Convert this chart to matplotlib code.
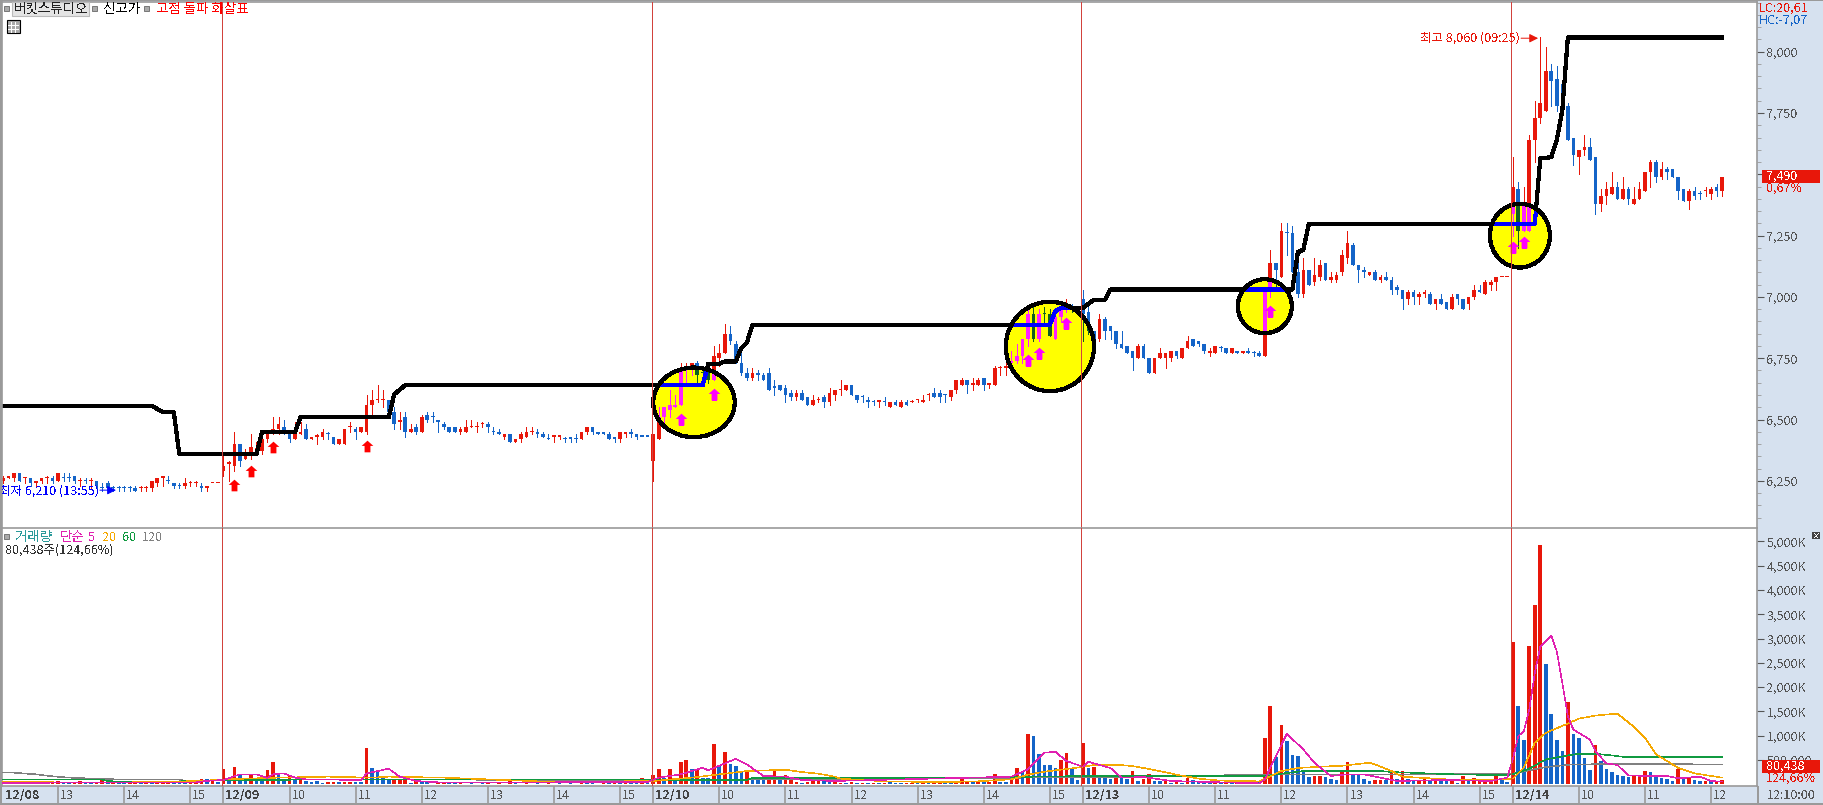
import numpy as np
import matplotlib
matplotlib.use("Agg")
import matplotlib.pyplot as plt
from matplotlib.patches import Ellipse, Rectangle
from matplotlib.path import Path

plt.rcParams['font.family'] = ['Noto Sans CJK KR', 'DejaVu Sans']
plt.rcParams['text.antialiased'] = False

# 5 minute candles, 12/08 (partial) to 12/14 (partial)
opens = [6250,6260,6260,6280,6260,6260,6240,6250,6260,6260,
 6250,6260,6260,6270,6250,6250,6250,6250,6220,6240,
 6220,6220,6220,6220,6220,6220,6220,6220,6240,6260,
 6250,6240,6230,6230,6240,6240,6230,6220,6240,6240,
 6290,6320,6310,6400,6340,6350,6380,6370,6420,6440,
 6460,6470,6450,6420,6440,6460,6420,6430,6430,6440,
 6430,6400,6400,6470,6460,6450,6450,6560,6580,6580,
 6580,6530,6490,6510,6450,6470,6450,6520,6510,6500,
 6480,6470,6470,6450,6450,6470,6470,6480,6480,6450,
 6450,6430,6440,6410,6420,6430,6450,6450,6440,6420,
 6430,6430,6420,6430,6420,6420,6450,6470,6450,6450,
 6440,6430,6420,6440,6450,6440,6430,6430,
 6330,6420,
 6510,6540,6550,6560,6710,6710,6730,6690,6690,6660,
 6750,6770,6850,6810,6730,6690,6670,6690,6680,6690,
 6630,6640,6630,6610,6590,6610,6590,6560,6580,6590,
 6570,6600,6620,6620,6640,6600,6590,6580,6570,6570,
 6570,6550,6570,6550,6570,6570,6580,6570,6600,6610,
 6610,6600,6590,6620,6640,6660,6640,6640,6670,6640,
 6640,6710,6710,6730,6740,6760,6830,6930,6830,6930,
 6930,6830,6920,6950,6960,6950,
 6990,6940,6860,6830,
 6910,6880,6860,6810,6800,6780,6750,6800,6750,6690,
 6750,6750,6750,6780,6750,6790,6830,6820,6810,6770,
 6770,6790,6790,6770,6780,6770,6780,6770,6770,6760,
 7020,7140,7080,7260,7260,7100,7010,7110,7060,7080,
 7140,7070,7070,7100,7160,7210,7130,7110,7090,7100,
 7070,7080,7070,7040,7030,6990,7020,7000,7010,7010,
 6970,6990,6980,6950,7010,6990,6970,7000,7030,7010,
 7050,7060,7080,7080,
 7340,7440,7270,7270,7640,7730,
 7760,7920,7890,7870,7780,7650,7570,7600,7610,7570,
 7380,7410,7420,7450,7400,7440,7380,7400,7430,7510,
 7550,7490,7520,7520,7490,7440,7390,7430,7420,7430,
 7420,7450,7430]
highs = [6270,6270,6280,6280,6260,6260,6250,6260,6270,6270,
 6280,6280,6280,6270,6260,6260,6260,6250,6240,6250,
 6230,6230,6230,6230,6230,6230,6230,6250,6260,6270,
 6270,6240,6240,6260,6250,6250,6240,6230,6240,6240,
 6360,6330,6450,6400,6380,6440,6410,6440,6450,6510,
 6510,6500,6450,6490,6490,6480,6430,6440,6460,6450,
 6430,6420,6460,6490,6470,6470,6600,6620,6640,6620,
 6580,6550,6530,6530,6480,6480,6520,6530,6530,6500,
 6490,6470,6470,6470,6500,6500,6490,6490,6490,6470,
 6460,6440,6440,6420,6450,6470,6470,6460,6450,6440,
 6430,6430,6430,6430,6440,6450,6470,6470,6450,6450,
 6450,6430,6450,6450,6460,6440,6430,6430,
 6440,6550,
 6550,6620,6600,6730,6730,6730,6740,6720,6700,6800,
 6810,6890,6880,6820,6790,6710,6710,6700,6690,6710,
 6660,6640,6640,6620,6620,6620,6590,6600,6590,6600,
 6630,6620,6660,6640,6640,6600,6600,6590,6580,6580,
 6590,6570,6580,6580,6580,6580,6580,6600,6610,6630,
 6620,6600,6620,6660,6670,6660,6670,6670,6670,6650,
 6720,6720,6740,6780,6810,6830,6950,6960,6950,6960,
 6950,6930,6960,6990,6970,6960,
 7030,6970,6860,6930,
 6920,6880,6860,6860,6800,6780,6810,6810,6750,6750,
 6790,6770,6780,6780,6790,6840,6830,6820,6810,6790,
 6800,6800,6790,6790,6780,6780,6790,6780,6780,7020,
 7190,7140,7300,7300,7290,7190,7160,7110,7160,7150,
 7140,7100,7100,7190,7270,7220,7130,7120,7100,7110,
 7090,7100,7080,7050,7030,7030,7030,7020,7030,7020,
 6990,7010,6980,7010,7010,6990,7000,7050,7050,7070,
 7070,7080,7080,7080,
 7570,7470,7450,7660,7800,8060,
 8020,7950,7940,7870,7790,7650,7600,7660,7650,7570,
 7440,7470,7510,7470,7490,7450,7450,7470,7510,7560,
 7560,7550,7530,7520,7490,7440,7440,7450,7430,7450,
 7450,7460,7490]
lows = [6240,6260,6250,6250,6240,6230,6230,6240,6240,6240,
 6250,6250,6250,6240,6230,6240,6220,6220,6210,6220,
 6210,6210,6210,6210,6210,6210,6210,6210,6230,6230,
 6240,6220,6220,6220,6230,6230,6210,6210,6240,6240,
 6270,6250,6290,6310,6340,6340,6360,6360,6410,6440,
 6440,6440,6410,6420,6440,6420,6420,6400,6420,6420,
 6400,6400,6400,6450,6420,6450,6440,6510,6570,6550,
 6510,6460,6460,6430,6450,6440,6450,6490,6490,6450,
 6460,6450,6450,6440,6450,6470,6450,6470,6450,6440,
 6440,6420,6410,6410,6410,6430,6440,6430,6430,6420,
 6410,6420,6410,6410,6410,6420,6440,6440,6440,6440,
 6420,6410,6410,6430,6430,6420,6430,6430,
 6250,6420,
 6480,6510,6550,6560,6640,6680,6640,6670,6650,6660,
 6720,6770,6810,6730,6680,6660,6660,6660,6660,6620,
 6600,6620,6570,6580,6580,6580,6560,6560,6570,6550,
 6560,6580,6600,6620,6600,6570,6570,6550,6560,6550,
 6560,6550,6560,6550,6560,6570,6570,6570,6580,6590,
 6570,6570,6580,6610,6640,6610,6620,6640,6620,6630,
 6640,6680,6680,6700,6730,6730,6800,6820,6820,6890,
 6840,6830,6900,6940,6940,6930,
 6820,6850,6790,6820,
 6830,6830,6790,6790,6770,6700,6750,6750,6690,6690,
 6750,6710,6740,6750,6750,6790,6800,6800,6770,6760,
 6770,6780,6770,6770,6770,6770,6770,6760,6760,6760,
 7000,7030,7080,7170,7100,7000,7000,7050,7050,7070,
 7070,7060,7060,7090,7140,7130,7060,7080,7090,7070,
 7060,7070,7010,7010,6950,6970,6970,6970,7000,6970,
 6950,6970,6950,6950,6970,6950,6950,6990,7020,7010,
 7030,7030,7080,7080,
 7250,7200,7270,7270,7550,7710,
 7760,7780,7760,7760,7640,7540,7500,7580,7560,7340,
 7350,7380,7420,7400,7400,7380,7380,7400,7430,7450,
 7470,7480,7480,7490,7400,7390,7360,7400,7400,7410,
 7400,7410,7410]
closes = [6260,6270,6280,6250,6260,6240,6250,6260,6260,6250,
 6280,6260,6260,6250,6250,6250,6250,6230,6220,6220,
 6220,6220,6220,6220,6210,6220,6220,6250,6260,6270,
 6250,6230,6230,6240,6240,6240,6220,6230,6240,6240,
 6310,6320,6400,6330,6360,6390,6380,6420,6450,6460,
 6480,6450,6420,6450,6450,6420,6430,6430,6450,6440,
 6400,6420,6460,6470,6450,6470,6560,6580,6580,6580,
 6530,6480,6500,6450,6460,6450,6510,6500,6510,6490,
 6470,6450,6450,6460,6470,6470,6470,6480,6470,6450,
 6440,6440,6410,6420,6440,6450,6450,6440,6430,6420,
 6430,6430,6420,6420,6420,6450,6470,6450,6440,6440,
 6420,6420,6450,6450,6440,6430,6430,6430,
 6440,6510,
 6550,6560,6560,6700,6710,6730,6680,6690,6660,6760,
 6770,6850,6820,6730,6690,6670,6690,6680,6660,6620,
 6630,6620,6600,6590,6610,6580,6560,6580,6580,6570,
 6610,6620,6620,6640,6600,6580,6590,6570,6570,6580,
 6570,6570,6560,6570,6560,6570,6580,6580,6600,6590,
 6590,6600,6620,6660,6660,6640,6650,6660,6640,6650,
 6710,6710,6720,6740,6760,6830,6930,6830,6930,6930,
 6840,6920,6950,6960,6950,6950,
 6930,6860,6800,6910,
 6860,6860,6810,6790,6770,6750,6800,6750,6690,6750,
 6770,6770,6780,6760,6790,6820,6800,6810,6780,6780,
 6800,6790,6770,6790,6770,6780,6770,6770,6760,7020,
 7140,7110,7270,7260,7100,7010,7110,7050,7090,7130,
 7070,7080,7090,7170,7220,7130,7110,7100,7100,7070,
 7080,7070,7030,7030,6990,7020,7000,7010,7020,6970,
 6990,6970,6950,7000,6990,6950,7000,7030,7020,7060,
 7060,7080,7080,7080,
 7450,7270,7370,7640,7730,7790,
 7920,7880,7780,7760,7640,7580,7600,7610,7560,7380,
 7410,7440,7450,7400,7440,7400,7400,7440,7510,7550,
 7490,7520,7510,7490,7430,7390,7430,7410,7420,7430,
 7440,7430,7490]
flat_blue = [11,12,15,18,20,21,22,23,30,32,59,78,89,99,102,104,116,117,127,
             140,156,158,160,171,189,194,195,221,227,233,308]

# 신고가 line, vertices
high_idx = [0,27,29,31,32,46,47,53,54,70,71,73,127,128,130,131,133,134,135,136,
            190,191,192,196,198,200,201,234,235,236,237,278,279,281,282,283,284,312]
high_val = [6556,6556,6530,6530,6359,6359,6450,6450,6509,6509,6603,6640,6640,6728,6728,6737,6737,6792,6813,6886,
            6886,6942,6955,6955,6989,6989,7030,7030,7182,7193,7298,7298,7565,7570,7640,7762,8058,8058]

# 고점 돌파 화살표
arrow_idx = [42,45,49,66,123,129,186,188,193,230,274,276]
arrow_val = [6232,6291,6386,6393,6503,6605,6742,6772,6894,6942,7203,7223]

# yellow marker circles: candle index, price, half width, half height
circle_idx = [125.4,190,229,275.3]
circle_val = [6570,6798,6962,7250]
circle_rx = [7.4,8,4.9,5.45]
circle_ry = [142,182,110,130]

volumes = [40,40,30,25,30,30,20,25,25,30,60,40,35,25,60,25,30,25,80,25,
 55,20,25,25,20,30,25,30,20,25,25,25,20,30,30,55,100,100,100,55,
 307,116,348,190,100,190,116,70,287,450,205,80,184,80,
 137,68,55,68,34,55,55,48,55,55,48,48,
 737,328,273,123,116,89,89,89,34,89,48,48,14,48,
 20,25,20,30,15,20,15,20,25,15,20,15,100,20,15,20,15,25,15,20,
 15,20,15,20,15,20,25,20,15,20,20,55,20,55,20,25,123,34,
 184,307,137,307,137,450,492,307,307,137,137,820,375,655,410,382,266,266,116,137,
 157,184,266,89,184,157,55,34,55,116,116,116,48,60,
 30,25,40,30,35,25,30,35,25,40,30,30,25,25,30,25,30,
 55,30,55,30,75,116,40,50,55,40,55,205,55,55,123,328,260,
 1025,1004,615,389,389,328,492,635,341,89,
 840,328,355,157,123,102,157,137,116,266,61,116,205,75,
 61,61,34,48,34,123,82,55,41,41,28,30,25,30,25,30,25,30,50,
 963,1619,553,1229,901,594,574,273,143,164,178,143,102,89,266,451,212,184,102,61,
 89,89,89,239,116,266,102,89,75,123,75,123,75,75,75,34,164,75,123,95,116,116,164,89,48,
 2920,1605,920,2855,3690,4917,2480,1455,920,683,1700,1025,943,533,295,800,478,307,253,191,
 164,157,164,184,266,253,198,130,110,68,307,130,157,90,68,68,82,50,80]
vol_colors = ("rbrbrbrrbr" "rbbrrbbrrb" "rbbrrbrbrr" "rbbbrrrbrb"
 "rbrbbrbbrrbbrb" "rbbbbrrbrrbb" "rbbbbrrrbrbbrr"
 "rbbrrbrbrb" "rrrbrrbbbr" "bbrbrrbbrr" "brbrbbrb"
 "rrbrbrrbrbbrbrbbbrbbbrrbrrrbrrrbbr"
 "rbrbrbrbrbbbrrbrb" "rrbbrrrbrbrrbbrrb"
 "rbbbbbrrbb" "rbrbbbrbbrbrrb" "brbrbrbbbbrbrbrbrbb"
 "rrbrbbbbbrrbbbrrbbbbrrbrbrbbrrbrbbrbrbrrrrrbb"
 "rbbrrrbbbbrbbbbrbbbbbbrrrbbbbbrbrbbrbrr")

# moving averages of volume (K), vertices
ma5_idx = [0,35,37,40,43,46,48,49,51,53,55,65,66,70,72,75,80,117,119,123,127,128,133,135,138,142,145,151,
           183,186,189,191,193,196,197,201,203,207,212,228,229,231,233,236,238,241,244,247,253,262,270,273,
           274,275,276,277,278,279,281,282,283,284,285,288,289,291,293,295,298,302,304,308,310,312]
ma5_val = [30,40,70,89,205,205,130,205,225,137,102,89,225,321,157,68,34,48,137,205,341,287,526,410,171,157,89,68,
           157,307,649,669,478,362,464,335,137,150,68,20,102,580,1038,717,444,171,205,205,68,89,68,137,
           512,990,1093,1537,2288,2834,3067,2732,2083,1400,1127,922,683,430,396,184,171,171,123,157,68,55]
ma20_idx = [0,20,36,40,50,56,59,67,70,80,100,118,125,135,142,145,148,151,152,156,160,168,176,183,186,189,194,198,
            202,205,209,213,217,221,228,232,235,239,243,248,249,252,254,262,270,274,276,278,280,284,286,289,293,296,
            298,300,304,307,312]
ma20_val = [48,34,68,102,137,150,157,137,157,137,48,68,137,273,300,253,218,157,116,89,61,48,55,102,198,260,328,396,
            403,376,294,198,116,75,61,273,335,362,382,444,410,273,157,102,89,116,341,854,1059,1250,1352,1414,1455,1182,
            956,615,341,225,137]
ma60_idx = [0,18,19,22,32,40,60,108,118,135,136,170,196,229,232,236,250,252,260,265,273,274,277,280,284,286,289,292,294,312]
ma60_val = [96,96,68,48,61,82,102,102,90,90,130,130,170,170,218,273,273,253,218,200,190,205,321,512,594,628,628,594,567,567]
ma120_idx = [0,2,6,9,12,15,22,32,34,40,118,196,229,250,273,274,280,285,306,307,312]
ma120_val = [239,239,205,164,137,123,96,96,55,100,90,143,198,205,210,218,355,410,423,403,403]

price_ticks = [6250,6500,6750,7000,7250,7500,7750,8000]
vol_ticks = [500,1000,1500,2000,2500,3000,3500,4000,4500,5000]
date_idx = [40,118,196,274]
date_labels = ["12/09","12/10","12/13","12/14"]
hour_idx = [10,22,34, 52,64,76,88,100,112, 130,142,154,166,178,190, 208,220,232,244,256,268, 286,298,310]
hour_labels = ["13","14","15", "10","11","12","13","14","15", "10","11","12","13","14","15",
               "10","11","12","13","14","15", "10","11","12"]

opens = np.array(opens); highs = np.array(highs); lows = np.array(lows); closes = np.array(closes)
volumes = np.array(volumes)
idx = np.arange(len(opens))
assert len(opens) == len(highs) == len(lows) == len(closes) == len(volumes) == 313, (len(opens), len(highs), len(lows), len(closes), len(volumes))
assert len(vol_colors) == 313, len(vol_colors)

W, H = 1823, 805
PX = 5.51          # one candle in pixels
RED = "#e8170a"
BLUE = "#1464c8"
BAND = "#d6e1ef"
GRAY = "#9a9a9a"
TXT = "#555555"
FS = 9
FS_KR = 9.7


def rect(x0, y0, x1, y1):
    return [x0 / W, 1 - y1 / H, (x1 - x0) / W, (y1 - y0) / H]


up_arrow = Path([(0, 1), (1, 0.1), (0.5, 0.1), (0.5, -1), (-0.5, -1), (-0.5, 0.1), (-1, 0.1), (0, 1)], closed=True)

fig = plt.figure(figsize=(W / 100, H / 100), dpi=100, facecolor=BAND)
ax = fig.add_axes(rect(2, 2, 1757, 528))
ax_v = fig.add_axes(rect(2, 528, 1757, 786))
xlim = ((2 - 3) / PX, (1757 - 3) / PX)
for a in (ax, ax_v):
    a.set_xlim(xlim)
    a.set_facecolor("white")
    for s in a.spines.values():
        s.set_color(GRAY)
        s.set_linewidth(1.2)
ax.spines["bottom"].set_visible(False)
ax.set_ylim(8000 - (528 - 51.7) * 4.078, 8000 + (51.7 - 2) * 4.078)
ax_v.set_ylim((784.3 - 786) * 20.58, (784.3 - 528) * 20.58)


def draw_prices(c_up, c_down, c_line, c_arrow, z, clip=None):
    is_up = (closes > opens) | ((closes == opens) & ~np.isin(idx, flat_blue))
    cols = np.where(is_up, c_up, c_down)
    body_lo = np.minimum(opens, closes)
    body_h = np.maximum(np.abs(closes - opens), 5)
    wicks = ax.vlines(idx, lows, highs, colors=cols, linewidth=0.72, antialiased=False, zorder=z)
    bars = ax.bar(idx, body_h, bottom=body_lo, width=0.66, color=cols, antialiased=False, linewidth=0, zorder=z)
    line, = ax.plot(high_idx, high_val, color=c_line, lw=2.3, antialiased=False, solid_joinstyle="round", zorder=z + 0.1)
    marks, = ax.plot(arrow_idx, arrow_val, ls="", marker=up_arrow, ms=8.4, mfc=c_arrow, mec=c_arrow, mew=0,
                     antialiased=False, zorder=z + 0.2)
    if clip is not None:
        wicks.set_clip_path(clip, ax.transData)
        line.set_clip_path(clip, ax.transData)
        marks.set_clip_path(clip, ax.transData)
        for b in bars:
            b.set_clip_path(clip, ax.transData)


draw_prices(RED, BLUE, "black", "#ff0000", 2)

# circles: yellow fill, then the same marks in the recoloured look, then the outline
paths = []
for cx, cy, rx, ry in zip(circle_idx, circle_val, circle_rx, circle_ry):
    e = Ellipse((cx, cy), 2 * rx, 2 * ry, facecolor="#ffff00", edgecolor="none", zorder=4)
    ax.add_patch(e)
    paths.append(e.get_path().transformed(e.get_patch_transform()))
draw_prices("#ff20ff", "#0f5f22", "#0000ff", "#ff00ff", 5, clip=Path.make_compound_path(*paths))
for cx, cy, rx, ry in zip(circle_idx, circle_val, circle_rx, circle_ry):
    ax.add_patch(Ellipse((cx, cy), 2 * rx, 2 * ry, fill=False, edgecolor="black", lw=2.3, antialiased=False, zorder=6))

for a in (ax, ax_v):
    for d in date_idx:
        a.axvline(d - 0.3, color="#d2423c", lw=0.6, antialiased=False, zorder=7)

# volume panel
ax_v.bar(idx, volumes, width=0.66, color=[RED if c == "r" else BLUE for c in vol_colors],
         antialiased=False, linewidth=0, zorder=2)
for xs, ys, col in ((ma120_idx, ma120_val, "#808080"), (ma60_idx, ma60_val, "#109a40"),
                    (ma20_idx, ma20_val, "#f5a800"), (ma5_idx, ma5_val, "#e020b0")):
    ax_v.plot(xs, ys, color=col, lw=0.4, antialiased=False, zorder=3)

# right scales
ax.yaxis.tick_right()
ax.set_yticks(price_ticks)
ax.set_yticklabels([f"{v:,}" for v in price_ticks])
ax.set_yticks(np.arange(6100, 8201, 50), minor=True)
ax.tick_params(axis="y", which="major", length=5, color=TXT, labelsize=FS, labelcolor=TXT, pad=2)
ax.tick_params(axis="y", which="minor", length=3, color=GRAY)
ax.set_xticks([])
ax_v.yaxis.tick_right()
ax_v.set_yticks(vol_ticks)
ax_v.set_yticklabels(["500,000"] + [f"{v:,}K" for v in vol_ticks[1:]])
ax_v.tick_params(axis="y", length=5, color=TXT, labelsize=FS, labelcolor=TXT, pad=2)

# time axis: a grey divider with the label to its right
ax_v.set_xticks(list(hour_idx) + list(date_idx))
ax_v.set_xticklabels([])
ax_v.tick_params(axis="x", length=12.5, width=1.2, color=GRAY, direction="out")
xt = ax_v.get_xaxis_transform()
for i, lab in zip(hour_idx, hour_labels):
    ax_v.annotate(lab, (i, 0), xycoords=xt, xytext=(2, -9), textcoords="offset pixels", fontsize=FS,
                  color=TXT, va="center", ha="left", annotation_clip=False)
for i, lab in zip([0] + date_idx, ["12/08"] + date_labels):
    ax_v.annotate(lab, (i, 0), xycoords=xt, xytext=(2, -9), textcoords="offset pixels", fontsize=FS,
                  color="#444444", fontweight="bold", va="center", ha="left", annotation_clip=False)

# high and low marks
ax.annotate("최고 8,060 (09:25)", (279, 8060), xytext=(-120, -1), textcoords="offset pixels", color=RED,
            fontsize=FS, va="center", ha="left", zorder=8)
ax.annotate("", (278.6, 8055), xytext=(-17, 0), textcoords="offset pixels",
            arrowprops=dict(arrowstyle="-|>", color=RED, lw=0.7, shrinkA=0, shrinkB=0, mutation_scale=13))
ax.annotate("최저 6,210 (13:55)", (20, 6210), xytext=(-114, 0), textcoords="offset pixels", color="#0000ff",
            fontsize=FS, va="center", ha="left", zorder=8)
ax.annotate("", (20.5, 6212), xytext=(-16, 0), textcoords="offset pixels",
            arrowprops=dict(arrowstyle="-|>", color="#0000ff", lw=0.7, shrinkA=0, shrinkB=0, mutation_scale=13))

# chart furniture, in picture pixels
ui = fig.add_axes([0, 0, 1, 1], zorder=10)
ui.set_xlim(0, W)
ui.set_ylim(H, 0)
ui.axis("off")
ui.add_patch(Rectangle((0, 0), W, 1.5, color=GRAY, lw=0))
ui.add_patch(Rectangle((0, 0), 1.5, 803, color=GRAY, lw=0))
ui.add_patch(Rectangle((0, 803), W, 2, color=GRAY, lw=0))
ui.add_patch(Rectangle((1757, 786), 1.5, 18, color=GRAY, lw=0))
for x, y in ((4, 6), (92, 6), (144, 6), (4, 534)):
    ui.add_patch(Rectangle((x, y), 4.5, 5, fc="#aaaaaa", ec="#777777", lw=0.7))
ui.add_patch(Rectangle((11.5, 2.5), 77, 14, fc="#e4e4e4", ec="#bbbbbb", lw=0.8))
ui.add_patch(Rectangle((6.5, 20.5), 13, 13, fc="#aaaaaa", ec="black", lw=0.8))
for d in (4, 8):
    ui.plot([6.5 + d + 0.5, 6.5 + d + 0.5], [22, 32], color="white", lw=0.6, antialiased=False)
ui.plot([8, 18], [25, 25], color="white", lw=0.6, antialiased=False)
ui.plot([8, 18], [29, 29], color="white", lw=0.6, antialiased=False)
ui.text(14, 9, "버킷스튜디오", fontsize=FS_KR, color="#222222", va="center")
ui.text(103, 9, "신고가", fontsize=FS_KR, color="black", va="center")
ui.text(156, 9, "고점 돌파 화살표", fontsize=FS_KR, color="#ff0000", va="center")
ui.text(15, 537, "거래량", fontsize=FS_KR, color="#2a9a9a", va="center")
ui.text(60, 537, "단순", fontsize=FS_KR, color="#e020b0", va="center")
ui.text(88, 537, "5", fontsize=FS, color="#e020b0", va="center")
ui.text(102, 537, "20", fontsize=FS, color="#f5a800", va="center")
ui.text(122, 537, "60", fontsize=FS, color="#109a40", va="center")
ui.text(142, 537, "120", fontsize=FS, color="#808080", va="center")
ui.text(5, 550, "80,438주(124,66%)", fontsize=FS, color="#333333", va="center")
ui.text(1759, 8, "LC:20,61", fontsize=FS, color=RED, va="center")
ui.text(1759, 20, "HC:-7,07", fontsize=FS, color=BLUE, va="center")
ui.add_patch(Rectangle((1762, 170), 58, 13, color=RED, lw=0))
ui.text(1766, 176, "7,490", fontsize=FS, color="white", va="center")
ui.text(1766, 188, "0,67%", fontsize=FS, color=RED, va="center")
ui.add_patch(Rectangle((1762, 760), 58, 13, color=RED, lw=0))
ui.text(1766, 766, "80,438", fontsize=FS, color="white", va="center")
ui.text(1766, 778, "124,66%", fontsize=FS, color=RED, va="center")
ui.add_patch(Rectangle((1812, 532), 8, 7, color="#444444", lw=0))
ui.text(1816, 535.5, "×", fontsize=6, color="white", va="center", ha="center")
ui.text(1767, 795, "12:10:00", fontsize=FS, color=TXT, va="center")

fig.savefig("out.png", dpi=100, facecolor=fig.get_facecolor())
